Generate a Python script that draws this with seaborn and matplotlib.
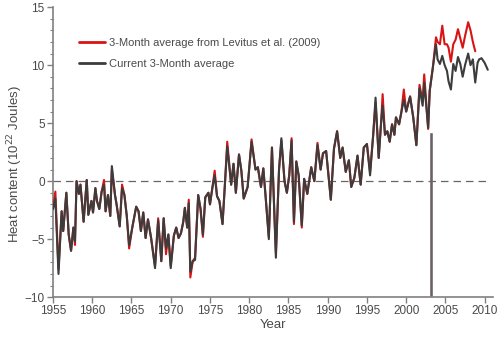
import numpy as np
import pandas as pd
import matplotlib
matplotlib.use("Agg")
import matplotlib.pyplot as plt
import seaborn as sns
from matplotlib.lines import Line2D
from matplotlib.ticker import MultipleLocator

sns.set_theme(style="ticks")
plt.rcParams['font.family'] = ['Liberation Sans', 'DejaVu Sans']

nan = np.nan
years = [1955.0, 1955.3, 1955.7, 1956.1, 1956.3, 1956.7, 1957.0, 1957.3, 1957.6, 1957.8,
         1958.0, 1958.3, 1958.5, 1958.9, 1959.3, 1959.5, 1959.9, 1960.1, 1960.4, 1960.6,
         1960.9, 1961.2, 1961.5, 1961.7, 1962.0, 1962.3, 1962.5, 1962.9, 1963.1, 1963.5,
         1963.8, 1964.1, 1964.4, 1964.7, 1965.1, 1965.6, 1965.9, 1966.2, 1966.5, 1966.8,
         1967.1, 1967.5, 1968.0, 1968.4, 1968.8, 1969.1, 1969.4, 1969.7, 1970.0, 1970.4,
         1970.7, 1971.0, 1971.3, 1971.6, 1971.8, 1972.1, 1972.3, 1972.5, 1972.8, 1973.1,
         1973.5, 1973.8, 1974.1, 1974.4, 1974.8, 1975.0, 1975.3, 1975.6, 1975.9, 1976.2,
         1976.6, 1976.9, 1977.2, 1977.7, 1978.0, 1978.3, 1978.7, 1979.0, 1979.3, 1979.8,
         1980.3, 1980.8, 1981.1, 1981.5, 1981.8, 1982.1, 1982.5, 1982.9, 1983.4, 1983.8,
         1984.1, 1984.5, 1984.8, 1985.1, 1985.4, 1985.7, 1986.0, 1986.3, 1986.7, 1987.0,
         1987.4, 1987.9, 1988.3, 1988.7, 1989.1, 1989.4, 1989.8, 1990.1, 1990.4, 1990.8,
         1991.2, 1991.6, 1991.9, 1992.3, 1992.7, 1993.0, 1993.4, 1993.8, 1994.2, 1994.6,
         1995.0, 1995.4, 1995.8, 1996.1, 1996.5, 1996.8, 1997.0, 1997.3, 1997.6, 1997.9,
         1998.2, 1998.5, 1998.7, 1999.1, 1999.4, 1999.7, 2000.0, 2000.5, 2000.9, 2001.3,
         2001.7, 2002.1, 2002.3, 2002.8, 2003.0, 2003.4, 2003.8, 2004.0, 2004.3, 2004.6,
         2004.9, 2005.2, 2005.4, 2005.7, 2006.0, 2006.3, 2006.6, 2006.9, 2007.2, 2007.5,
         2007.9, 2008.2, 2008.5, 2008.8, 2009.1, 2009.3, 2009.6, 2010.0, 2010.4]

current = [-2.4, -1.5, -8.0, -2.6, -4.3, -1.0, -4.6, -6.0, -4.0, -5.2,
           0.0, -1.1, -0.3, -3.5, 0.1, -2.9, -1.7, -2.7, -0.6, -1.7,
           -2.4, -0.9, -0.3, -2.6, -1.2, -3.0, 1.3, -1.2, -2.0, -3.9,
           -0.6, -1.2, -3.0, -5.5, -4.0, -2.2, -2.6, -4.3, -2.7, -4.9,
           -3.3, -4.9, -7.5, -3.4, -6.9, -3.2, -5.8, -4.6, -7.5, -4.7,
           -4.0, -4.9, -4.5, -3.5, -2.3, -4.0, -1.9, -7.8, -6.9, -6.8,
           -1.2, -2.4, -4.6, -1.4, -1.0, -2.0, -0.6, 0.5, -1.3, -1.7,
           -3.7, -0.3, 3.0, -0.3, 1.5, -1.0, 2.3, 0.9, -1.5, -0.5,
           3.4, 1.0, 1.2, -0.5, 1.1, -1.4, -5.0, 2.9, -6.6, 1.0,
           3.7, 0.0, -1.0, 0.5, 3.5, -3.5, 1.7, 0.5, -3.8, 0.2,
           -1.1, 1.2, 0.0, 3.1, 1.0, 2.4, 2.6, 0.5, -1.6, 2.8,
           4.3, 2.0, 2.9, 0.8, 1.8, -0.5, 0.3, 2.2, -0.3, 2.9,
           3.2, 0.5, 4.0, 7.2, 2.0, 5.0, 6.5, 4.0, 4.3, 3.4,
           4.9, 4.0, 5.5, 4.9, 6.0, 7.0, 6.0, 7.3, 5.5, 3.1,
           8.0, 6.5, 8.5, 4.6, 7.8, 9.8, 11.8, 10.5, 10.1, 10.8,
           10.0, 9.5, 8.6, 7.9, 10.1, 9.5, 10.7, 10.1, 9.0, 10.0,
           11.0, 10.0, 10.5, 8.5, 10.2, 10.5, 10.6, 10.2, 9.6]

levitus = [-2.4, -0.9, -7.6, -2.6, -4.3, -1.0, -4.6, -6.0, -4.0, -5.5,
           0.0, -1.1, -0.3, -3.5, 0.1, -2.9, -1.7, -2.7, -0.6, -1.7,
           -2.4, -0.9, 0.1, -2.6, -1.2, -3.0, 1.0, -1.2, -2.0, -3.9,
           -0.3, -1.2, -3.0, -5.8, -4.0, -2.2, -2.6, -4.3, -2.7, -4.9,
           -3.3, -4.9, -7.3, -3.2, -6.9, -3.2, -6.3, -4.6, -7.3, -4.7,
           -4.0, -4.9, -4.5, -3.5, -2.3, -4.0, -1.6, -8.3, -6.9, -6.6,
           -1.2, -2.4, -4.8, -1.4, -1.0, -2.0, -0.6, 0.9, -1.3, -1.7,
           -3.7, -0.3, 3.4, -0.3, 1.5, -1.0, 2.3, 0.9, -1.5, -0.5,
           3.6, 1.0, 1.2, -0.5, 1.1, -1.4, -4.8, 2.9, -6.2, 1.0,
           3.5, 0.0, -1.0, 0.5, 3.7, -3.7, 1.7, 0.5, -4.0, 0.2,
           -1.1, 1.2, 0.0, 3.3, 1.0, 2.4, 2.6, 0.5, -1.6, 2.8,
           4.3, 2.0, 2.9, 0.8, 1.8, -0.5, 0.3, 2.2, -0.3, 2.9,
           3.2, 0.8, 4.0, 6.8, 2.0, 5.0, 7.5, 4.0, 4.3, 3.4,
           4.9, 4.0, 5.5, 4.9, 6.0, 7.9, 6.0, 7.3, 5.5, 3.1,
           8.3, 6.9, 9.2, 4.5, 7.8, 9.8, 12.4, 12.0, 11.8, 13.4,
           11.8, 11.8, 11.5, 10.3, 11.8, 12.2, 13.1, 12.3, 11.5, 12.5,
           13.7, 13.0, 12.0, 11.2, nan, nan, nan, nan, nan]

bar_year = [2003.2]
bar_top = [4.2]

label_levitus = "3-Month average from Levitus et al. (2009)"
label_current = "Current 3-Month average"

red = "#d81414"
dark = "#3c3c3c"
text_c = "#4a4a4a"

df = pd.DataFrame({"year": years, "current": current, "levitus": levitus})

fig = plt.figure(figsize=(5.0, 3.4), dpi=100)
ax = fig.add_axes([0.106, 0.126, 0.879, 0.853])

ax.bar(bar_year, [t + 10 for t in bar_top], bottom=-10, width=0.5,
       color="#6b6167", zorder=1)
ax.axhline(0, xmin=0, xmax=(2010.5 - 1955) / 56, color="#666666",
           lw=0.9, ls=(0, (6, 4)), zorder=1)

sns.lineplot(data=df, x="year", y="levitus", color=red, lw=1.5,
             estimator=None, ax=ax, zorder=3)
sns.lineplot(data=df, x="year", y="current", color=dark, lw=1.5,
             estimator=None, ax=ax, zorder=4)

ax.set_xlim(1955, 2011)
ax.set_ylim(-10, 15)
ax.set_xticks(np.arange(1955, 2011, 5))
ax.yaxis.set_major_locator(MultipleLocator(5))
ax.yaxis.set_minor_locator(MultipleLocator(1))

for s in ["top", "right"]:
    ax.spines[s].set_visible(False)
for s in ["left", "bottom"]:
    ax.spines[s].set_color("#808080")
    ax.spines[s].set_linewidth(1.2)

ax.tick_params(axis="both", which="major", direction="out", length=4,
               width=1, color="#808080", labelcolor=text_c, labelsize=8.5, pad=2)
ax.tick_params(axis="y", which="minor", direction="out", length=2.5,
               width=0.8, color="#808080")

ax.set_xlabel("Year", fontsize=9.5, color=text_c, labelpad=1)
ax.set_ylabel("Heat content (10$^{22}$ Joules)", fontsize=9.5, color=text_c)
ax.yaxis.set_label_coords(-0.064, 0.46)

handles = [Line2D([], [], color=red, lw=2), Line2D([], [], color=dark, lw=2)]
leg = ax.legend(handles, [label_levitus, label_current], loc="upper left",
                bbox_to_anchor=(0.05, 0.91), frameon=False, fontsize=8,
                handlelength=2.3, handletextpad=0.35, labelspacing=1.05, borderaxespad=0)
for t in leg.get_texts():
    t.set_color(text_c)

fig.savefig("out.png", dpi=100)
